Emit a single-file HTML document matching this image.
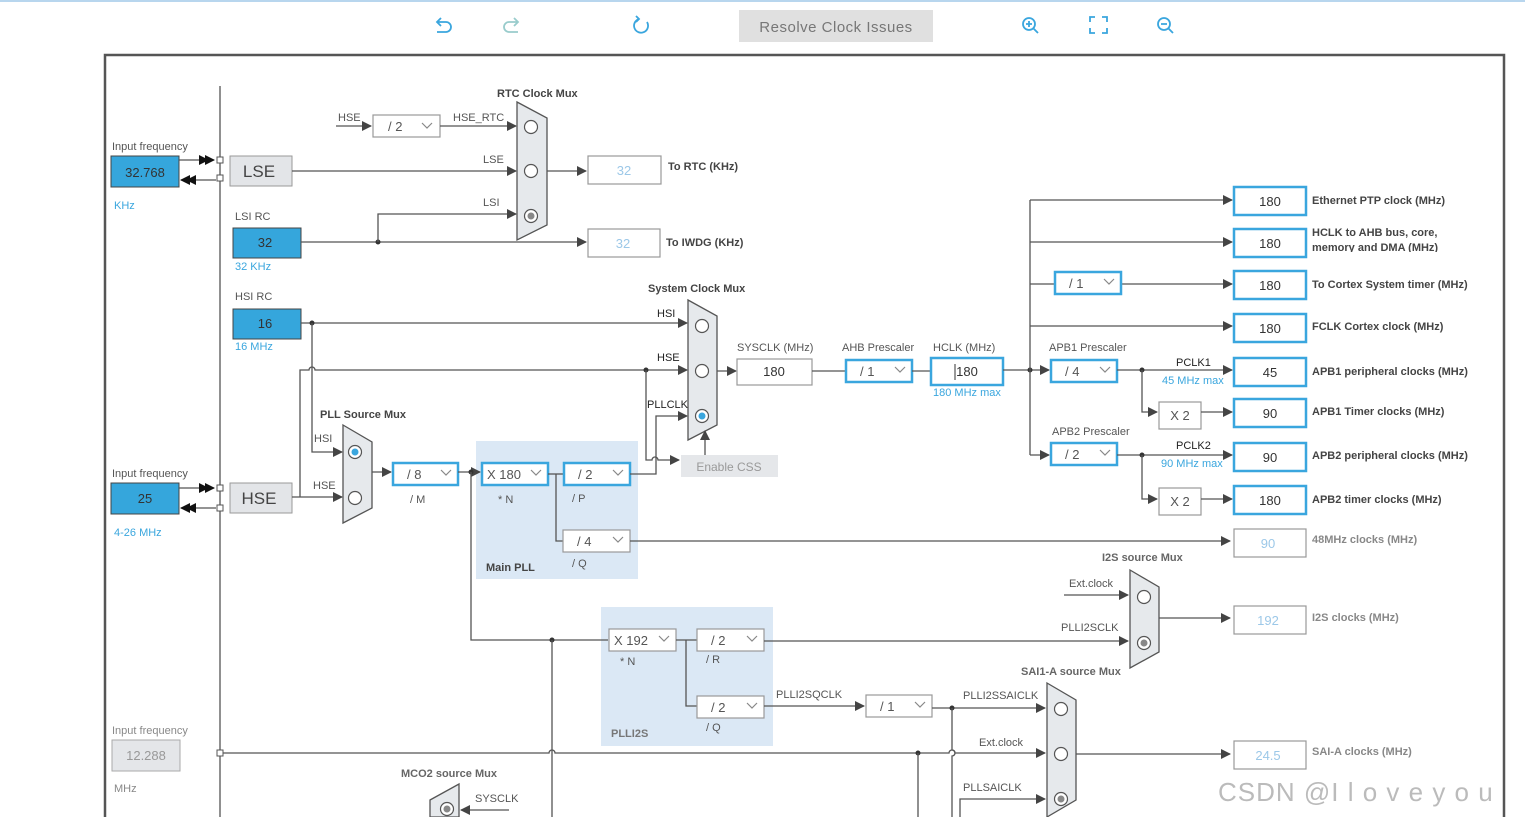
<!DOCTYPE html>
<html><head><meta charset="utf-8"><style>
body{margin:0;background:#fff;}
svg{display:block;font-family:"Liberation Sans",sans-serif;}
.l{stroke:#555;stroke-width:1.3;fill:none}
.t{font-size:11px;fill:#555}
.dd{font-size:13px;fill:#555}
.tb{font-size:11px;fill:#444;font-weight:bold}
.bl{font-size:11px;fill:#3aa6de}
.bx{fill:#fff;stroke:#3aa6de;stroke-width:2.5}
.gx{fill:#fff;stroke:#999;stroke-width:1.2}
.v{font-size:13px;fill:#333;text-anchor:middle}
.vg{font-size:13px;fill:#9cc8e8;text-anchor:middle}
.in{fill:#35a6dc;stroke:#444;stroke-width:1}
.mux{fill:#e6e9ec;stroke:#555;stroke-width:1.3}
.c{fill:#fff;stroke:#555;stroke-width:1.2}
</style></head><body>
<svg width="1525" height="817" viewBox="0 0 1525 817">
<defs>
<marker id="a" markerWidth="10" markerHeight="10" refX="9" refY="5" orient="auto" markerUnits="userSpaceOnUse"><path d="M0,0 L10,5 L0,10z" fill="#444"/></marker>
<marker id="d" markerWidth="16" markerHeight="10" refX="15" refY="5" orient="auto" markerUnits="userSpaceOnUse" overflow="visible"><path d="M6,0 L16,5 L6,10z M0,0 L10,5 L0,10z" fill="#111"/></marker>
<g id="chev"><path d="M0,0 l5,5 l5,-5" stroke="#888" fill="none" stroke-width="1.2"/></g>
</defs>
<line x1="0" y1="1" x2="1525" y2="1" stroke="#b8d6ee" stroke-width="2"/>
<!-- toolbar -->
<g stroke="#3aa6de" stroke-width="1.8" fill="none">
<path d="M438,22 h8 a5,5 0 0 1 0,10 h-9 M441,18 l-4,4 l4,4"/>
<path d="M517,22 h-8 a5,5 0 0 0 0,10 h9 M514,18 l4,4 l-4,4" stroke="#9cc"/>
<path d="M647,22 a7,7 0 1 1 -8,-3 M636,16 l3,3 l-3,3"/>
<circle cx="1029" cy="24" r="6"/><path d="M1033,28 l5,5 M1026,24 h6 M1029,21 v6"/>
<path d="M1090,22 v-5 h5 M1102,17 h5 v5 M1107,28 v5 h-5 M1095,33 h-5 v-5"/>
<circle cx="1164" cy="24" r="6"/><path d="M1168,28 l5,5 M1161,24 h6"/>
</g>
<rect x="739" y="10" width="194" height="32" fill="#e0e0e0"/>
<text x="836" y="32" font-size="15" fill="#777" text-anchor="middle" letter-spacing="0.5">Resolve Clock Issues</text>
<rect x="105" y="55" width="1399" height="770" fill="none" stroke="#555" stroke-width="2.5"/>
<line x1="220" y1="86" x2="220" y2="817" class="l"/>

<!-- LSE -->
<text x="112" y="150" class="t">Input frequency</text>
<rect x="111" y="156" width="68" height="31" class="in"/><text x="145" y="177" class="v" fill="#234">32.768</text>
<text x="114" y="209" class="bl">KHz</text>
<line x1="179" y1="160" x2="214" y2="160" class="l" marker-end="url(#d)"/>
<line x1="216" y1="180" x2="181" y2="180" class="l" marker-end="url(#d)"/>
<rect x="217" y="157" width="6" height="6" fill="#fff" stroke="#555"/><rect x="217" y="175" width="6" height="6" fill="#fff" stroke="#555"/>
<rect x="230" y="156" width="62" height="30" fill="#e3e5e8" stroke="#999"/><text x="259" y="177" font-size="17" fill="#444" text-anchor="middle">LSE</text>
<line x1="292" y1="171" x2="516" y2="171" class="l" marker-end="url(#a)"/><text x="483" y="163" class="t">LSE</text>
<text x="338" y="121" class="t">HSE</text><line x1="336" y1="126" x2="371" y2="126" class="l" marker-end="url(#a)"/>
<rect x="373" y="115" width="67" height="22" class="gx"/><text x="388" y="131" class="dd">/ 2</text><use href="#chev" x="422" y="123"/>
<text x="453" y="121" class="t">HSE_RTC</text><line x1="440" y1="126" x2="516" y2="126" class="l" marker-end="url(#a)"/>
<text x="497" y="97" class="tb">RTC Clock Mux</text>
<polygon points="517,102 547,118 547,225 517,240" class="mux"/>
<circle cx="531" cy="127" r="6.5" class="c"/><circle cx="531" cy="171" r="6.5" class="c"/><circle cx="531" cy="216" r="6.5" class="c"/><circle cx="531" cy="216" r="3.5" fill="#888"/>
<line x1="547" y1="171" x2="586" y2="171" class="l" marker-end="url(#a)"/>
<rect x="588" y="156" width="73" height="28" class="gx"/><text x="624" y="175" class="vg">32</text><text x="668" y="170" class="tb" fill="#666">To RTC (KHz)</text>
<text x="235" y="220" class="t">LSI RC</text>
<rect x="233" y="228" width="68" height="30" class="in"/><text x="265" y="247" class="v">32</text><text x="235" y="270" class="bl">32 KHz</text>
<line x1="301" y1="242" x2="586" y2="242" class="l" marker-end="url(#a)"/><circle cx="378" cy="242" r="2.5" fill="#333"/>
<path d="M378,242 V214 H516" class="l" marker-end="url(#a)"/><text x="483" y="206" class="t">LSI</text>
<rect x="588" y="229" width="72" height="28" class="gx"/><text x="623" y="248" class="vg">32</text><text x="666" y="246" class="tb" fill="#666">To IWDG (KHz)</text>

<!-- HSI -->
<text x="235" y="300" class="t">HSI RC</text>
<rect x="233" y="309" width="68" height="30" class="in"/><text x="265" y="328" class="v">16</text><text x="235" y="350" class="bl">16 MHz</text>
<line x1="301" y1="323" x2="687" y2="323" class="l" marker-end="url(#a)"/><circle cx="312" cy="323" r="2.5" fill="#333"/>
<path d="M312,323 V452 H342" class="l" marker-end="url(#a)"/><text x="314" y="442" class="t">HSI</text>
<!-- HSE -->
<text x="112" y="477" class="t">Input frequency</text>
<rect x="111" y="483" width="68" height="31" class="in"/><text x="145" y="503" class="v">25</text><text x="114" y="536" class="bl">4-26 MHz</text>
<line x1="179" y1="488" x2="214" y2="488" class="l" marker-end="url(#d)"/>
<line x1="216" y1="508" x2="181" y2="508" class="l" marker-end="url(#d)"/>
<rect x="217" y="485" width="6" height="6" fill="#fff" stroke="#555"/><rect x="217" y="505" width="6" height="6" fill="#fff" stroke="#555"/>
<rect x="230" y="483" width="62" height="30" fill="#e3e5e8" stroke="#999"/><text x="259" y="504" font-size="17" fill="#444" text-anchor="middle">HSE</text>
<line x1="292" y1="497" x2="342" y2="497" class="l" marker-end="url(#a)"/><text x="313" y="489" class="t">HSE</text>
<path d="M300,497 V370 H309 a3,3 0 0 1 6,0 H687" class="l" marker-end="url(#a)"/>
<circle cx="646" cy="370" r="2.5" fill="#333"/>
<path d="M646,370 V460 H652 a3,3 0 0 1 6,0 H679" class="l" marker-end="url(#a)"/>
<!-- PLL source mux -->
<text x="320" y="418" class="tb">PLL  Source Mux</text>
<polygon points="343,425 372,442 372,508 343,523" class="mux"/>
<circle cx="355" cy="452" r="6.5" class="c" stroke="#3aa6de"/><circle cx="355" cy="452" r="3.5" fill="#3aa6de"/><circle cx="355" cy="498" r="6.5" class="c"/>
<line x1="372" y1="472" x2="391" y2="472" class="l" marker-end="url(#a)"/>
<!-- Main PLL -->
<rect x="476" y="441" width="162" height="138" fill="#dbe8f5"/>
<rect x="393" y="463" width="65" height="22" class="bx"/><text x="407" y="479" class="dd">/ 8</text><use href="#chev" x="441" y="470"/><text x="410" y="503" class="t">/ M</text>
<line x1="458" y1="472" x2="480" y2="472" class="l" marker-end="url(#a)"/><circle cx="471" cy="472" r="2.5" fill="#333"/>
<rect x="482" y="463" width="66" height="22" class="bx"/><text x="487" y="479" class="dd">X 180</text><use href="#chev" x="531" y="470"/><text x="498" y="503" class="t">* N</text>
<line x1="548" y1="474" x2="564" y2="474" class="l"/>
<rect x="564" y="463" width="66" height="22" class="bx"/><text x="578" y="479" class="dd">/ 2</text><use href="#chev" x="613" y="470"/><text x="572" y="502" class="t">/ P</text>
<path d="M556,474 V541 H563" class="l"/>
<rect x="563" y="530" width="67" height="22" class="gx"/><text x="577" y="546" class="dd">/ 4</text><use href="#chev" x="613" y="537"/><text x="572" y="567" class="t">/ Q</text>
<text x="486" y="571" class="tb">Main PLL</text>
<path d="M630,474 H656 V416 H687" class="l" marker-end="url(#a)"/>
<line x1="630" y1="541" x2="1230" y2="541" class="l" marker-end="url(#a)"/>
<!-- system mux -->
<text x="648" y="292" class="tb">System Clock Mux</text>
<polygon points="688,300 717,316 717,425 688,440" class="mux"/>
<circle cx="702" cy="326" r="6.5" class="c"/><circle cx="702" cy="371" r="6.5" class="c"/><circle cx="702" cy="416" r="6.5" class="c" stroke="#3aa6de"/><circle cx="702" cy="416" r="3.5" fill="#3aa6de"/>
<text x="657" y="317" class="t" style="fill:#222">HSI</text><text x="657" y="361" class="t" style="fill:#222">HSE</text><text x="647" y="408" class="t" style="fill:#222">PLLCLK</text>
<rect x="681" y="455" width="97" height="22" fill="#e5e7ea"/><text x="729" y="471" font-size="12" fill="#999" text-anchor="middle">Enable CSS</text>
<line x1="705" y1="455" x2="705" y2="431" class="l" marker-end="url(#a)"/>
<line x1="717" y1="371" x2="736" y2="371" class="l" marker-end="url(#a)"/>
<text x="737" y="351" class="t">SYSCLK (MHz)</text>
<rect x="737" y="359" width="75" height="26" class="gx"/><text x="774" y="376" class="v">180</text>
<line x1="812" y1="371" x2="846" y2="371" class="l"/>
<text x="842" y="351" class="t">AHB Prescaler</text>
<rect x="846" y="360" width="66" height="22" class="bx"/><text x="860" y="376" class="dd">/ 1</text><use href="#chev" x="895" y="367"/>
<line x1="912" y1="371" x2="931" y2="371" class="l"/>
<text x="933" y="351" class="t">HCLK (MHz)</text>
<rect x="931" y="358" width="72" height="27" class="bx"/><text x="967" y="376" class="v">180</text><line x1="955" y1="364" x2="955" y2="380" stroke="#333"/>
<text x="933" y="396" class="bl">180 MHz max</text>
<line x1="1003" y1="370" x2="1049" y2="370" class="l" marker-end="url(#a)"/><circle cx="1030" cy="370" r="2.5" fill="#333"/>
<line x1="1030" y1="200" x2="1030" y2="455" class="l"/>
<line x1="1030" y1="455" x2="1049" y2="455" class="l" marker-end="url(#a)"/>
<!-- top outputs -->
<line x1="1030" y1="200" x2="1232" y2="200" class="l" marker-end="url(#a)"/>
<line x1="1030" y1="242" x2="1232" y2="242" class="l" marker-end="url(#a)"/>
<line x1="1030" y1="284" x2="1232" y2="284" class="l" marker-end="url(#a)"/>
<line x1="1030" y1="326" x2="1232" y2="326" class="l" marker-end="url(#a)"/>
<rect x="1055" y="272" width="66" height="22" class="bx"/><text x="1069" y="288" class="dd">/ 1</text><use href="#chev" x="1104" y="279"/>
<g>
<rect x="1234" y="187" width="72" height="28" class="bx"/><text x="1270" y="206" class="v">180</text>
<rect x="1234" y="229" width="72" height="28" class="bx"/><text x="1270" y="248" class="v">180</text>
<rect x="1234" y="271" width="72" height="28" class="bx"/><text x="1270" y="290" class="v">180</text>
<rect x="1234" y="314" width="72" height="28" class="bx"/><text x="1270" y="333" class="v">180</text>
<rect x="1234" y="358" width="72" height="28" class="bx"/><text x="1270" y="377" class="v">45</text>
<rect x="1234" y="399" width="72" height="28" class="bx"/><text x="1270" y="418" class="v">90</text>
<rect x="1234" y="443" width="72" height="28" class="bx"/><text x="1270" y="462" class="v">90</text>
<rect x="1234" y="486" width="72" height="28" class="bx"/><text x="1270" y="505" class="v">180</text>
<rect x="1234" y="529" width="72" height="28" class="gx"/><text x="1268" y="548" class="vg">90</text>
<rect x="1234" y="606" width="72" height="28" class="gx"/><text x="1268" y="625" class="vg">192</text>
<rect x="1234" y="741" width="72" height="28" class="gx"/><text x="1268" y="760" class="vg">24.5</text>
</g>
<g class="tb">
<text x="1312" y="204">Ethernet PTP clock (MHz)</text>
<text x="1312" y="236">HCLK to AHB bus, core,</text>
<text x="1312" y="251">memory and DMA (MHz)</text>
<text x="1312" y="288">To Cortex System timer (MHz)</text>
<text x="1312" y="330">FCLK Cortex clock (MHz)</text>
<text x="1312" y="375">APB1 peripheral clocks (MHz)</text>
<text x="1312" y="415">APB1 Timer clocks (MHz)</text>
<text x="1312" y="459">APB2 peripheral clocks (MHz)</text>
<text x="1312" y="503">APB2 timer clocks (MHz)</text>
</g>
<rect x="1310" y="252" width="150" height="8" fill="#fff"/>
<g class="tb" style="fill:#888">
<text x="1312" y="543">48MHz clocks (MHz)</text>
<text x="1312" y="621">I2S clocks (MHz)</text>
<text x="1312" y="755">SAI-A clocks (MHz)</text>
</g>
<!-- APB1 -->
<text x="1049" y="351" class="t">APB1 Prescaler</text>
<rect x="1051" y="360" width="66" height="22" class="bx"/><text x="1065" y="376" class="dd">/ 4</text><use href="#chev" x="1100" y="367"/>
<line x1="1117" y1="370" x2="1232" y2="370" class="l" marker-end="url(#a)"/><circle cx="1142" cy="370" r="2.5" fill="#333"/>
<text x="1176" y="366" class="t" style="fill:#222">PCLK1</text><text x="1162" y="384" class="bl">45 MHz max</text>
<path d="M1142,370 V412 H1157" class="l" marker-end="url(#a)"/>
<rect x="1159" y="402" width="42" height="27" class="gx"/><text x="1180" y="420" class="v" style="fill:#555">X 2</text>
<line x1="1201" y1="412" x2="1232" y2="412" class="l" marker-end="url(#a)"/>
<!-- APB2 -->
<text x="1052" y="435" class="t">APB2 Prescaler</text>
<rect x="1051" y="443" width="66" height="22" class="bx"/><text x="1065" y="459" class="dd">/ 2</text><use href="#chev" x="1100" y="450"/>
<line x1="1117" y1="455" x2="1232" y2="455" class="l" marker-end="url(#a)"/><circle cx="1142" cy="455" r="2.5" fill="#333"/>
<text x="1176" y="449" class="t" style="fill:#222">PCLK2</text><text x="1161" y="467" class="bl">90 MHz max</text>
<path d="M1142,455 V499 H1157" class="l" marker-end="url(#a)"/>
<rect x="1159" y="488" width="42" height="27" class="gx"/><text x="1180" y="506" class="v" style="fill:#555">X 2</text>
<line x1="1201" y1="499" x2="1232" y2="499" class="l" marker-end="url(#a)"/>
<!-- I2S mux -->
<text x="1102" y="561" class="tb" style="fill:#666">I2S source Mux</text>
<polygon points="1130,570 1159,587 1159,652 1130,668" class="mux"/>
<circle cx="1144" cy="597" r="6.5" class="c"/><circle cx="1144" cy="643" r="6.5" class="c"/><circle cx="1144" cy="643" r="3.5" fill="#888"/>
<text x="1069" y="587" class="t">Ext.clock</text><line x1="1064" y1="595" x2="1128" y2="595" class="l" marker-end="url(#a)"/>
<text x="1061" y="631" class="t">PLLI2SCLK</text>
<line x1="1159" y1="618" x2="1230" y2="618" class="l" marker-end="url(#a)"/>
<!-- PLLI2S -->
<rect x="601" y="607" width="172" height="139" fill="#dbe8f5"/>
<path d="M471,472 V640 H608" class="l"/><circle cx="552" cy="640" r="2.5" fill="#333"/>
<line x1="552" y1="640" x2="552" y2="817" class="l"/>
<rect x="609" y="629" width="67" height="22" class="gx"/><text x="614" y="645" class="dd">X 192</text><use href="#chev" x="659" y="636"/><text x="620" y="665" class="t">* N</text>
<line x1="676" y1="640" x2="697" y2="640" class="l"/><path d="M686,640 V706 H697" class="l"/>
<rect x="697" y="629" width="67" height="22" class="gx"/><text x="711" y="645" class="dd">/ 2</text><use href="#chev" x="747" y="636"/><text x="706" y="663" class="t">/ R</text>
<rect x="697" y="696" width="67" height="22" class="gx"/><text x="711" y="712" class="dd">/ 2</text><use href="#chev" x="747" y="703"/><text x="706" y="731" class="t">/ Q</text>
<text x="611" y="737" class="tb" style="fill:#777">PLLI2S</text>
<line x1="764" y1="641" x2="1128" y2="641" class="l" marker-end="url(#a)"/>
<text x="776" y="698" class="t">PLLI2SQCLK</text><line x1="764" y1="706" x2="864" y2="706" class="l" marker-end="url(#a)"/>
<rect x="866" y="695" width="66" height="22" class="gx"/><text x="880" y="711" class="dd">/ 1</text><use href="#chev" x="915" y="702"/>
<line x1="932" y1="708" x2="1045" y2="708" class="l" marker-end="url(#a)"/><circle cx="952" cy="708" r="2.5" fill="#333"/>
<path d="M952,708 V750 a3,3 0 0 1 0,6 V817" class="l"/>
<text x="963" y="699" class="t">PLLI2SSAICLK</text>
<!-- SAI mux -->
<text x="1021" y="675" class="tb" style="fill:#666">SAI1-A source Mux</text>
<polygon points="1047,683 1076,700 1076,800 1047,817" class="mux"/>
<circle cx="1061" cy="709" r="6.5" class="c"/><circle cx="1061" cy="754" r="6.5" class="c"/><circle cx="1061" cy="799" r="6.5" class="c"/><circle cx="1061" cy="799" r="3.5" fill="#888"/>
<text x="979" y="746" class="t">Ext.clock</text>
<path d="M220,753 H549 a3,3 0 0 1 6,0 H949 a3,3 0 0 1 6,0 H1045" class="l" marker-end="url(#a)"/>
<circle cx="918" cy="753" r="2.5" fill="#333"/><line x1="918" y1="753" x2="918" y2="817" class="l"/>
<rect x="217" y="750" width="6" height="6" fill="#fff" stroke="#555"/>
<text x="963" y="791" class="t">PLLSAICLK</text><path d="M960,817 V799 H1045" class="l" marker-end="url(#a)"/>
<line x1="1076" y1="754" x2="1230" y2="754" class="l" marker-end="url(#a)"/>
<!-- input 3 -->
<text x="112" y="734" class="t" style="fill:#888">Input frequency</text>
<rect x="112" y="740" width="68" height="31" fill="#e4e6e9" stroke="#aaa"/><text x="146" y="760" class="v" style="fill:#999">12.288</text>
<text x="114" y="792" class="t" style="fill:#888">MHz</text>
<!-- MCO2 -->
<text x="401" y="777" class="tb" style="fill:#666">MCO2 source Mux</text>
<polygon points="430,800 459,784 459,817 430,817" class="mux"/>
<circle cx="447" cy="809" r="6.5" class="c"/><circle cx="447" cy="809" r="3.5" fill="#888"/>
<text x="475" y="802" class="t">SYSCLK</text><line x1="509" y1="810" x2="461" y2="810" class="l" marker-end="url(#a)"/>
<text x="1218" y="801" font-size="26" fill="#bbb" letter-spacing="1">CSDN @I l o v e y o u</text>
</svg>
</body></html>
